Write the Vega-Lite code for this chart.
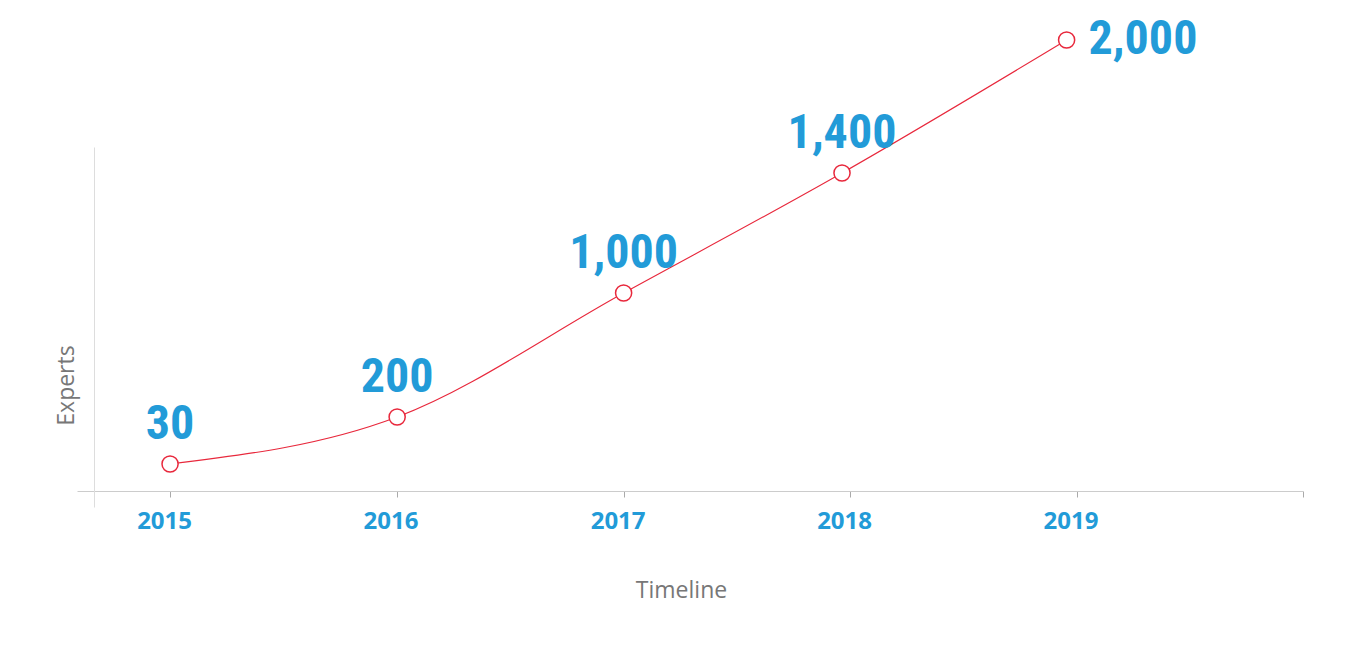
{
  "$schema": "https://vega.github.io/schema/vega-lite/v6.json",
  "width": 1226,
  "height": 360,
  "autosize": {"type": "none"},
  "padding": {"left": 77, "top": 147, "right": 63, "bottom": 151},
  "background": "white",
  "config": {"view": {"stroke": null}},
  "data": {
    "values": [
      {"date": "2015-01-01", "experts": 30},
      {"date": "2016-01-02", "experts": 200},
      {"date": "2017-01-01", "experts": 1000},
      {"date": "2017-12-19", "experts": 1400},
      {"date": "2018-12-16", "experts": 2000}
    ]
  },
  "layer": [
    {
      "encoding": {
        "x": {
          "field": "date",
          "type": "temporal",
          "scale": {
            "type": "utc",
            "domain": [
              {"year": 2014, "month": 8, "date": 4, "utc": true},
              {"year": 2020, "month": 1, "date": 1, "utc": true}
            ]
          },
          "axis": {
            "values": [
              {"year": 2015, "month": 1, "date": 1, "utc": true},
              {"year": 2016, "month": 1, "date": 1, "utc": true},
              {"year": 2017, "month": 1, "date": 1, "utc": true},
              {"year": 2018, "month": 1, "date": 1, "utc": true},
              {"year": 2019, "month": 1, "date": 1, "utc": true},
              {"year": 2020, "month": 1, "date": 1, "utc": true}
            ],
            "labelExpr": "utcFormat(datum.value, '%Y') == '2020' ? '' : utcFormat(datum.value, '%Y')",
            "offset": -16,
            "grid": false,
            "domainColor": "#cccccc",
            "domainWidth": 1,
            "tickColor": "#aaaaaa",
            "tickSize": 6,
            "labelColor": "#229bd8",
            "labelFont": "Open Sans",
            "labelFontSize": 24,
            "labelFontWeight": "bold",
            "labelPadding": 12,
            "labelFlush": false,
            "labelOverlap": false,
            "labelOffset": -6,
            "title": "Timeline",
            "titleFont": "Open Sans",
            "titleFontSize": 23,
            "titleFontWeight": "normal",
            "titleColor": "#777777",
            "titleX": 604,
            "titleY": 106,
            "titleBaseline": "alphabetic",
            "titleAlign": "center"
          }
        },
        "y": {
          "field": "experts",
          "type": "quantitative",
          "scale": {
            "domain": [30, 200, 1000, 1400, 2000],
            "range": [317, 270, 146, 26, -107]
          },
          "axis": null
        }
      },
      "layer": [
        {
          "mark": {"type": "line", "interpolate": "monotone", "color": "#e8283c", "strokeWidth": 1.1}
        },
        {
          "mark": {"type": "point", "filled": true, "fill": "white", "stroke": "#e8283c", "strokeWidth": 1.5, "size": 260, "opacity": 1}
        },
        {
          "transform": [{"filter": "datum.experts < 2000"}],
          "mark": {"type": "text", "font": "Roboto Condensed, Roboto", "fontWeight": "bold", "fontSize": 48, "color": "#229bd8", "align": "center", "baseline": "alphabetic", "dy": -25},
          "encoding": {"text": {"field": "experts", "type": "quantitative", "format": ",d"}}
        },
        {
          "transform": [{"filter": "datum.experts >= 2000"}],
          "mark": {"type": "text", "font": "Roboto Condensed, Roboto", "fontWeight": "bold", "fontSize": 48, "color": "#229bd8", "align": "left", "baseline": "middle", "dx": 22},
          "encoding": {"text": {"field": "experts", "type": "quantitative", "format": ",d"}}
        }
      ]
    },
    {
      "data": {"values": [{"v": 0}]},
      "mark": {"type": "rule", "opacity": 0},
      "encoding": {
        "y": {
          "datum": 0,
          "type": "quantitative",
          "scale": {"domain": [0, 1]},
          "axis": {
            "orient": "left",
            "offset": -17,
            "grid": false,
            "ticks": false,
            "labels": false,
            "domainColor": "#dddddd",
            "domainWidth": 1,
            "title": "Experts",
            "titleFont": "Open Sans",
            "titleFontSize": 23,
            "titleFontWeight": "normal",
            "titleColor": "#777777",
            "titleAngle": 270,
            "titleX": -21,
            "titleY": 238,
            "titleAlign": "center",
            "titleBaseline": "alphabetic"
          }
        }
      }
    }
  ],
  "resolve": {"scale": {"y": "independent"}}
}
